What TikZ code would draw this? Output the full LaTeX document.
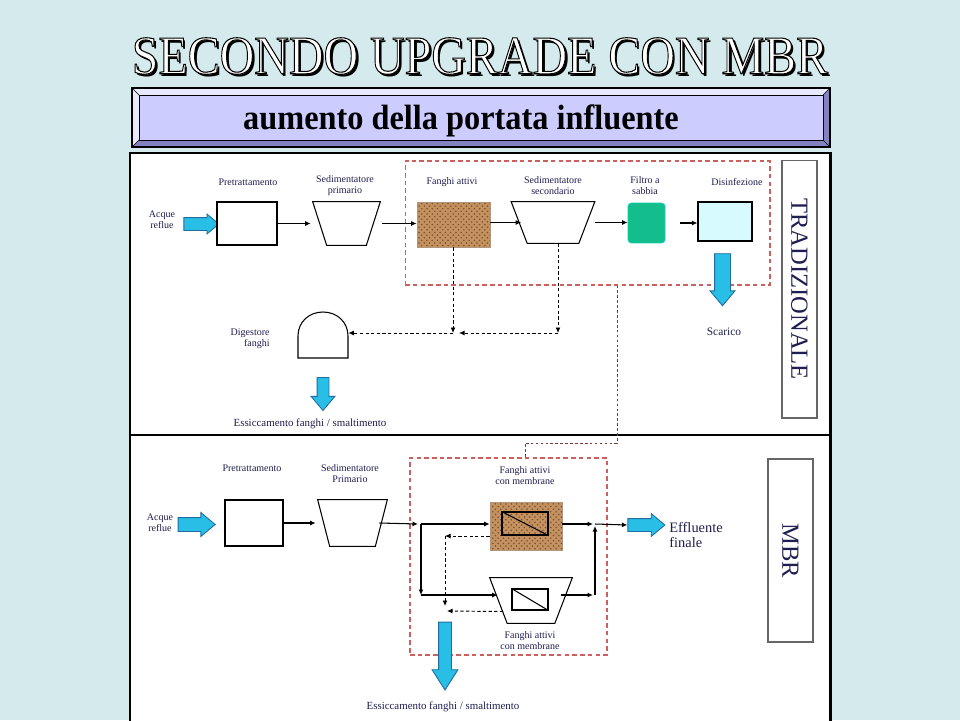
\documentclass[tikz,border=0pt]{standalone}
\usepackage{fontspec}
\setmainfont{Liberation Serif}
\usetikzlibrary{shapes.arrows,patterns,arrows.meta,calc}

\definecolor{sfondo}{RGB}{212,234,236}
\definecolor{lilla}{RGB}{204,204,255}
\definecolor{lillachiaro}{RGB}{232,232,255}
\definecolor{lillascuro}{RGB}{130,130,190}
\definecolor{ciano}{RGB}{40,190,230}
\definecolor{cianobordo}{RGB}{30,110,160}
\definecolor{sabbia}{RGB}{20,190,140}
\definecolor{acqua}{RGB}{215,250,255}
\definecolor{sughero}{RGB}{196,146,96}
\definecolor{sugheroscuro}{RGB}{125,80,40}
\definecolor{rosa}{RGB}{205,95,95}
\definecolor{blu}{RGB}{30,30,80}

\tikzset{
  blocco/.style={draw,line width=0.6pt,fill=white,inner sep=0pt},
  vasca/.style={inner sep=0pt},
  bordo/.style={draw,line width=0.6pt,fill=white},
  fango/.style={draw=sugheroscuro!60,inner sep=0pt,preaction={fill=sughero},
    pattern=crosshatch dots,pattern color=sugheroscuro},
  membrana/.style={draw,line width=0.6pt,inner sep=0pt},
  freccia/.style={single arrow,draw=cianobordo,fill=ciano,line width=0.5pt,
    single arrow tip angle=80,minimum width=0pt},
  lbl/.style={font=\fontsize{5.7}{6.3}\selectfont,text=blu,align=center,inner sep=0pt},
  flusso/.style={-{Latex[length=1.1mm,width=1mm]},line width=0.6pt},
  tratt/.style={flusso,line width=0.55pt,dash pattern=on 1.8pt off 1.4pt},
  gruppo/.style={draw=rosa,dash pattern=on 2.6pt off 1.8pt,line width=0.6pt,inner sep=0pt},
  verticale/.style={draw=black!60,line width=0.6pt,fill=white,rotate=-90,inner sep=0pt,
    font=\fontsize{14}{14}\selectfont,text=blu},
  cornice/.style={line width=1.7pt,fill=white}
}

\begin{document}
\begin{tikzpicture}[x=0.02cm,y=-0.02cm]
        \fill[sfondo] (0,0) rectangle (960,720);
        \useasboundingbox (0,0) rectangle (960,720);

        % titolo
        \node[font=\fontsize{31}{31}\selectfont,xscale=0.88,text=black] at (482.5,58.5) {SECONDO UPGRADE CON MBR};
        \node[font=\fontsize{31}{31}\selectfont,xscale=0.88,text=white] (titolo) at (480,56)
            {\special{pdf:literal direct 2 Tr 0.6 w 0 G}SECONDO UPGRADE CON MBR\special{pdf:literal direct 0 Tr}};

        \fill[lillascuro] (132,88) rectangle (830,147);
        \fill[lillachiaro] (132,88) -- (830,88) -- (823,95) -- (139,95) -- (139,140) -- (132,147) -- cycle;
        \fill[lilla] (139,95) rectangle (823,140);
        \draw[line width=0.6pt] (132,88) rectangle (830,147);
        \draw[line width=0.3pt] (139,95) rectangle (823,140);
        \draw[line width=0.3pt] (132,88) -- (139,95) (830,88) -- (823,95) (830,147) -- (823,140) (132,147) -- (139,140);
        \node[font=\bfseries\fontsize{20}{20}\selectfont,xscale=0.92] (sottotitolo) at (461,121) {aumento della portata influente};

        % schema tradizionale
        \draw[cornice] (130,153) rectangle (830,435);
        \node[gruppo,minimum width=7.3cm,minimum height=2.48cm] (rb1) at (587.5,223) {};
        \node[verticale,minimum width=5.16cm,minimum height=0.7cm] (trad) at (799.5,289) {TRADIZIONALE};

        \node[lbl] at (162,220) {Acque\\reflue};
        \node[freccia,inner sep=0.12cm,single arrow head extend=0.07cm,minimum height=0.7cm] (in1) at (197.5,224) {};
        \node[blocco,minimum width=1.2cm,minimum height=0.86cm] (pre1) at (247,223.5) {};
        \node[lbl] at (248,182) {Pretrattamento};
        \node[vasca,minimum width=1.34cm,minimum height=0.86cm] (sed1) at (346.5,223.5) {};
        \draw[bordo] (sed1.north west) -- (sed1.north east) -- ($(sed1.south east)+(-14,0)$) -- ($(sed1.south west)+(14,0)$) -- cycle;
        \node[lbl] at (345,186) {Sedimentatore\\primario};
        \node[fango,minimum width=1.46cm,minimum height=0.9cm] (fan1) at (453.5,224.5) {};
        \node[lbl] at (452,182) {Fanghi attivi};
        \node[vasca,minimum width=1.66cm,minimum height=0.82cm] (sed2) at (553,222.5) {};
        \draw[bordo] (sed2.north west) -- (sed2.north east) -- ($(sed2.south east)+(-16,0)$) -- ($(sed2.south west)+(16,0)$) -- cycle;
        \node[lbl] at (553,186) {Sedimentatore\\secondario};
        \node[draw=sabbia!70!cyan,fill=sabbia,rounded corners=2pt,minimum width=0.74cm,minimum height=0.8cm,inner sep=0pt] (fil1) at (646.5,223) {};
        \node[lbl] at (645,186) {Filtro a\\sabbia};
        \node[blocco,fill=acqua,minimum width=1.08cm,minimum height=0.78cm] (dis1) at (725,221.5) {};
        \node[lbl] at (737,182) {Disinfezione};
        \node[freccia,shape border rotate=270,inner sep=0.15cm,single arrow head extend=0.09cm,minimum height=1.04cm] (sca1) at (722.5,275) {};
        \node[lbl,font=\fontsize{6.5}{7}\selectfont] at (724,332) {Scarico};

        \draw[flusso] (pre1) -- ($(sed1.west)+(-2,0)$);
        \draw[flusso] ($(sed1.east)+(2,0)$) -- (fan1.west |- sed1);
        \draw[flusso] (fan1.east |- sed2) -- ($(sed2.west)+(10,0)$);
        \draw[flusso] (sed2.east) -- (fil1.west |- sed2);
        \draw[flusso] ($(fil1.east)+(15,0)$) -- (dis1.west |- fil1);

        % fanghi al digestore
        \node[minimum width=1cm,minimum height=0.92cm,inner sep=0pt] (dig1) at (323,333) {};
        \draw[line width=0.6pt] (298,358) -- (348,358) -- (348,336) .. controls (348,322) and (337,312) .. (323,312)
            .. controls (309,312) and (298,322) .. (298,336) -- cycle;
        \node[lbl,align=right,anchor=east] at (270,339) {Digestore\\fanghi};
        \coordinate (d1) at (453,333);
        \coordinate (d2) at (558,333);
        \draw[tratt] (fan1.south -| d1) -- (d1);
        \draw[tratt] (sed2.south -| d2) -- (d2);
        \draw[tratt] (d2) -- ($(d1)+(6,0)$);
        \draw[tratt] (d1) -- (dig1.east);
        \node[freccia,shape border rotate=270,inner sep=0.11cm,single arrow head extend=0.12cm,minimum height=0.66cm] (es1) at (323,390.5) {};
        \node[lbl,font=\fontsize{6.2}{7}\selectfont] at (310,424) {Essiccamento fanghi / smaltimento};

        % schema MBR
        \draw[cornice] (130,435) rectangle (830,724);
        \node[gruppo,minimum width=3.94cm,minimum height=3.94cm] (rb2) at (508.5,556.5) {};
        \node[verticale,minimum width=3.66cm,minimum height=0.9cm] (mbr) at (790.5,550.5) {MBR};
        \coordinate (k1) at (617,443);
        \coordinate (k2) at (525,443);
        \draw[rosa!60!black,dash pattern=on 1.5pt off 1.3pt,line width=0.5pt] (rb1.south -| k1) -- (k1) -- (k2) -- (rb2.north -| k2);

        \node[lbl] at (160,523) {Acque\\reflue};
        \node[freccia,inner sep=0.13cm,single arrow head extend=0.1cm,minimum height=0.74cm] (in2) at (192.5,524.5) {};
        \node[blocco,minimum width=1.16cm,minimum height=0.92cm] (pre2) at (254,523) {};
        \node[lbl] at (252,468) {Pretrattamento};
        \node[vasca,minimum width=1.38cm,minimum height=0.92cm] (sedP) at (352.5,523) {};
        \draw[bordo] (sedP.north west) -- (sedP.north east) -- ($(sedP.south east)+(-12,0)$) -- ($(sedP.south west)+(12,0)$) -- cycle;
        \node[lbl] at (350,474) {Sedimentatore\\Primario};

        \node[fango,minimum width=1.44cm,minimum height=0.96cm] (mem1) at (526,526) {};
        \node[membrana,minimum width=0.92cm,minimum height=0.46cm] (mb1) at (525,523.5) {};
        \draw[line width=0.6pt] (mb1.north west) -- (mb1.south east);
        \node[lbl] at (525,476) {Fanghi attivi\\con membrane};
        \node[vasca,minimum width=1.64cm,minimum height=0.9cm] (mem2) at (531,600.5) {};
        \draw[bordo] (mem2.north west) -- (mem2.north east) -- ($(mem2.south east)+(-17.5,0)$) -- ($(mem2.south west)+(17.5,0)$) -- cycle;
        \node[membrana,minimum width=0.72cm,minimum height=0.42cm] (mb2) at (530,599.5) {};
        \draw[line width=0.6pt] (mb2.north west) -- (mb2.south east);
        \node[lbl] at (530,641) {Fanghi attivi\\con membrane};

        \node[freccia,inner sep=0.12cm,single arrow head extend=0.1cm,minimum height=0.74cm] (eff) at (642.5,525) {};
        \node[lbl,align=left,anchor=west,font=\fontsize{8.2}{9}\selectfont] at (669,535) {Effluente\\finale};

        \coordinate (j1) at (421,524);
        \coordinate (j2) at (421,595);
        \coordinate (j3) at (595,524);
        \coordinate (j4) at (595,595);
        \draw[flusso] (pre2) -- ($(sedP.west)+(-2,0)$);
        \draw[flusso] ($(sedP.east)+(-8,0)$) -- ($(j1)+(-3,0)$);
        \draw[flusso] (j1) -- (mem1.west |- j1);
        \draw[flusso] (j1) -- (j2);
        \draw[flusso] (j2) -- ($(mem2.west |- j2)+(8,0)$);
        \draw[flusso] (mem1.east |- j3) -- ($(j3)+(-2,0)$);
        \draw[flusso] ($(mb2.east |- j4)+(12,0)$) -- ($(j4)+(-2,0)$);
        \draw[flusso] (j4) -- ($(j3)+(0,2)$);
        \draw[flusso] (j3) -- (eff.west);

        % ricircolo e fanghi di supero
        \coordinate (r1) at (445,536);
        \coordinate (r2) at (445,606);
        \draw[tratt] (mem1.west |- r1) -- (r1);
        \draw[tratt] (r1) -- (r2);
        \draw[tratt] ($(mem2.center)+(-28,11)$) -- ($(r2)+(2,5)$);
        \node[freccia,shape border rotate=270,inner sep=0.12cm,single arrow head extend=0.13cm,single arrow tip angle=65,minimum height=1.36cm] (es2) at (445,651) {};
        \node[lbl,font=\fontsize{6.2}{7}\selectfont] at (443,707) {Essiccamento fanghi / smaltimento};
\end{tikzpicture}
\end{document}
